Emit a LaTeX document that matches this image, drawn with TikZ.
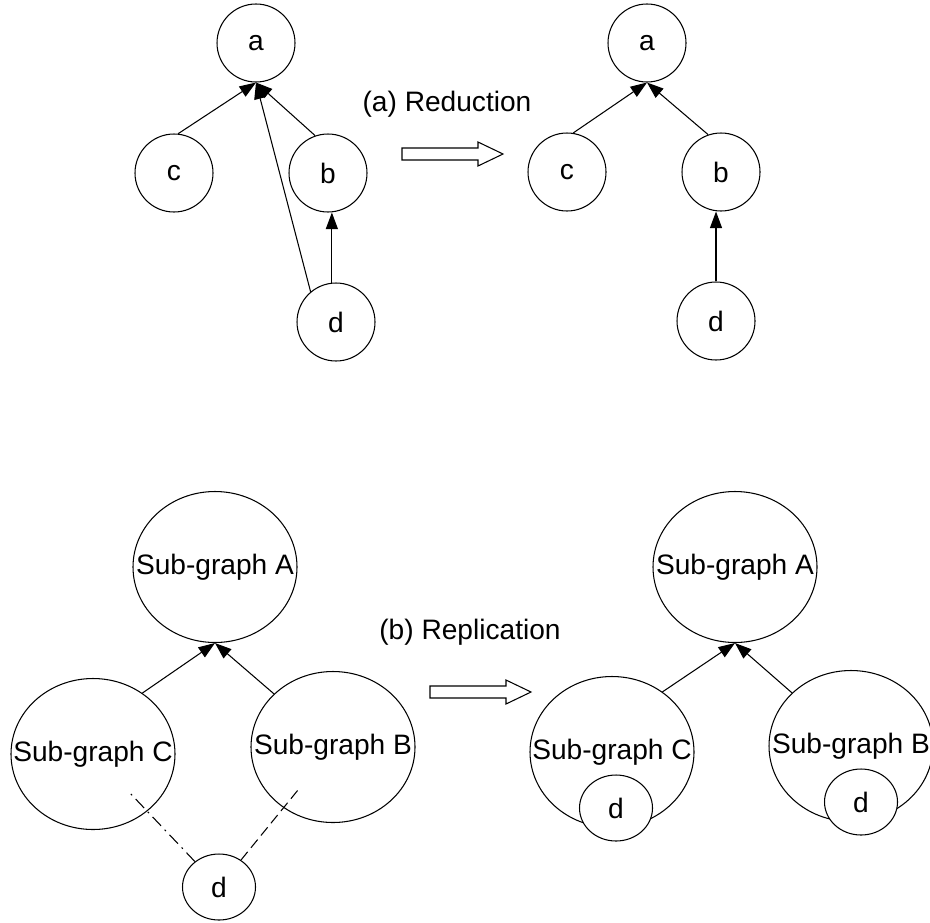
\documentclass[tikz,border=0pt]{standalone}
\usepackage{fontspec}
\setmainfont{Liberation Sans}
\usetikzlibrary{positioning,shapes.geometric,arrows.meta}

\tikzset{
	vtx/.style={draw, circle, minimum size=1.56cm, inner sep=0pt, line width=0.6pt},
	subg/.style={draw, ellipse, minimum width=3.28cm, minimum height=3.02cm, inner sep=0pt, line width=0.6pt},
	dnode/.style={draw, ellipse, fill=white, minimum width=1.46cm, minimum height=1.32cm, inner sep=0pt, line width=0.6pt},
	link/.style={-{Triangle[length=3.3mm,width=2.4mm]}, line width=0.6pt},
	bigarrow/.pic={\draw[line width=0.6pt] (0,0.12) -- (1.52,0.12) -- (1.52,0.24) -- (2.02,0) -- (1.52,-0.24) -- (1.52,-0.12) -- (0,-0.12) -- cycle;},
}

\begin{document}
\begin{tikzpicture}[on grid, font=\fontsize{16}{19}\selectfont]
	\useasboundingbox (0,0) rectangle (18.6,-18.44);
	% (a) reduction
	\node[vtx] (a1) at (5.12,-0.86) {a};
	\node[vtx, below left=2.6cm and 1.64cm of a1] (c1) {c};
	\node[vtx, below right=2.6cm and 1.44cm of a1] (b1) {b};
	\node[vtx, below right=2.98cm and 0.16cm of b1] (d1) {d};
	\draw[link] (c1.84) -- (a1.south);
	\draw[link] (b1.109) -- (a1.south);
	\draw[link] (d1.130) -- (a1.south);
	\draw[link] (d1.96) -- (d1.96 |- b1.south);
	
	\node (redlbl) at (8.94,-2.08) {(a) Reduction};
	\coordinate[below left=1.0cm and 0.9cm of redlbl] (ra);
	\pic at (ra) {bigarrow};
	
	\node[vtx, right=7.82cm of a1] (a2) {a};
	\node[vtx, below left=2.58cm and 1.6cm of a2] (c2) {c};
	\node[vtx, below right=2.58cm and 1.48cm of a2] (b2) {b};
	\node[vtx, below left=2.98cm and 0.1cm of b2] (d2) {d};
	\draw[link] (c2.81) -- (a2.south);
	\draw[link] (b2.109) -- (a2.south);
	\draw[link] (d2.north) -- (d2.north |- b2.south);
	
	% (b) replication
	\node[subg, label=center:Sub-graph A] (A1) at (4.3,-11.34) {};
	\node[subg, below left=3.74cm and 2.44cm of A1, label=center:Sub-graph C] (C1) {};
	\node[subg, below right=3.6cm and 2.36cm of A1, label=center:Sub-graph B] (B1) {};
	\node[dnode, below right=6.4cm and 0.08cm of A1] (d3) {d};
	\draw[link] (C1.51) -- (A1.south);
	\draw[link] (B1.138) -- (A1.south);
	\draw[dash pattern=on 7pt off 3pt on 1pt off 3pt, line width=0.6pt, shorten >=1.1cm] (d3) -- (C1.center);
	\draw[dash pattern=on 6pt off 3pt, line width=0.6pt, shorten >=1.1cm] (d3) -- (B1.center);
	
	\node (replbl) at (9.4,-12.64) {(b) Replication};
	\coordinate[below left=1.2cm and 0.8cm of replbl] (rb);
	\pic at (rb) {bigarrow};
	
	\node[subg, right=10.4cm of A1, label=center:Sub-graph A] (A2) {};
	\node[subg, below left=3.7cm and 2.46cm of A2, label=center:Sub-graph C] (C2) {};
	\node[subg, below right=3.58cm and 2.32cm of A2, label=center:Sub-graph B] (B2) {};
	\node[dnode, below right=1.12cm and 0.08cm of C2] (dC) {d};
	\node[dnode, below right=1.12cm and 0.2cm of B2] (dB) {d};
	\draw[link] (C2.50) -- (A2.south);
	\draw[link] (B2.138) -- (A2.south);
\end{tikzpicture}
\end{document}
